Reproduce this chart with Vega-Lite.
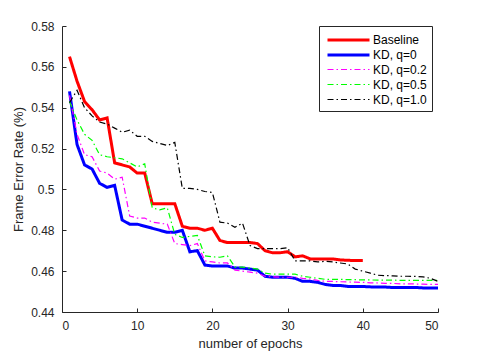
{
  "$schema": "https://vega.github.io/schema/vega-lite/v6.json",
  "width": 376,
  "height": 286,
  "autosize": {"type": "none"},
  "padding": {"left": 62, "top": 26, "right": 47, "bottom": 40},
  "config": {
    "font": "Liberation Sans",
    "view": {"stroke": null},
    "axis": {
      "grid": false,
      "domainColor": "#262626",
      "tickColor": "#262626",
      "labelColor": "#262626",
      "titleColor": "#262626",
      "labelFontSize": 12,
      "titleFontSize": 13,
      "titleFontWeight": "normal",
      "tickSize": -4,
      "domainWidth": 1
    }
  },
  "data": {
    "values": [
      {"x":1,"s":"Baseline","y":0.565},{"x":2,"s":"Baseline","y":0.553},{"x":3,"s":"Baseline","y":0.543},{"x":4,"s":"Baseline","y":0.539},{"x":5,"s":"Baseline","y":0.534},{"x":6,"s":"Baseline","y":0.535},{"x":7,"s":"Baseline","y":0.513},{"x":8,"s":"Baseline","y":0.512},{"x":9,"s":"Baseline","y":0.511},{"x":10,"s":"Baseline","y":0.508},
      {"x":11,"s":"Baseline","y":0.508},{"x":12,"s":"Baseline","y":0.493},{"x":13,"s":"Baseline","y":0.493},{"x":14,"s":"Baseline","y":0.493},{"x":15,"s":"Baseline","y":0.493},{"x":16,"s":"Baseline","y":0.482},{"x":17,"s":"Baseline","y":0.481},{"x":18,"s":"Baseline","y":0.481},{"x":19,"s":"Baseline","y":0.480},{"x":20,"s":"Baseline","y":0.481},
      {"x":21,"s":"Baseline","y":0.475},{"x":22,"s":"Baseline","y":0.474},{"x":23,"s":"Baseline","y":0.474},{"x":24,"s":"Baseline","y":0.474},{"x":25,"s":"Baseline","y":0.474},{"x":26,"s":"Baseline","y":0.4735},{"x":27,"s":"Baseline","y":0.470},{"x":28,"s":"Baseline","y":0.469},{"x":29,"s":"Baseline","y":0.469},{"x":30,"s":"Baseline","y":0.4695},
      {"x":31,"s":"Baseline","y":0.467},{"x":32,"s":"Baseline","y":0.4675},{"x":33,"s":"Baseline","y":0.466},{"x":34,"s":"Baseline","y":0.466},{"x":35,"s":"Baseline","y":0.466},{"x":36,"s":"Baseline","y":0.466},{"x":37,"s":"Baseline","y":0.4655},{"x":38,"s":"Baseline","y":0.4653},{"x":39,"s":"Baseline","y":0.4652},{"x":40,"s":"Baseline","y":0.4652},

      {"x":1,"s":"KD, q=0","y":0.548},{"x":2,"s":"KD, q=0","y":0.522},{"x":3,"s":"KD, q=0","y":0.512},{"x":4,"s":"KD, q=0","y":0.510},{"x":5,"s":"KD, q=0","y":0.503},{"x":6,"s":"KD, q=0","y":0.501},{"x":7,"s":"KD, q=0","y":0.502},{"x":8,"s":"KD, q=0","y":0.485},{"x":9,"s":"KD, q=0","y":0.483},{"x":10,"s":"KD, q=0","y":0.483},
      {"x":11,"s":"KD, q=0","y":0.482},{"x":12,"s":"KD, q=0","y":0.481},{"x":13,"s":"KD, q=0","y":0.480},{"x":14,"s":"KD, q=0","y":0.479},{"x":15,"s":"KD, q=0","y":0.479},{"x":16,"s":"KD, q=0","y":0.480},{"x":17,"s":"KD, q=0","y":0.4695},{"x":18,"s":"KD, q=0","y":0.470},{"x":19,"s":"KD, q=0","y":0.463},{"x":20,"s":"KD, q=0","y":0.4625},
      {"x":21,"s":"KD, q=0","y":0.4625},{"x":22,"s":"KD, q=0","y":0.4625},{"x":23,"s":"KD, q=0","y":0.4615},{"x":24,"s":"KD, q=0","y":0.4615},{"x":25,"s":"KD, q=0","y":0.461},{"x":26,"s":"KD, q=0","y":0.4605},{"x":27,"s":"KD, q=0","y":0.4575},{"x":28,"s":"KD, q=0","y":0.457},{"x":29,"s":"KD, q=0","y":0.457},{"x":30,"s":"KD, q=0","y":0.457},
      {"x":31,"s":"KD, q=0","y":0.4565},{"x":32,"s":"KD, q=0","y":0.455},{"x":33,"s":"KD, q=0","y":0.455},{"x":34,"s":"KD, q=0","y":0.4545},{"x":35,"s":"KD, q=0","y":0.4535},{"x":36,"s":"KD, q=0","y":0.453},{"x":37,"s":"KD, q=0","y":0.453},{"x":38,"s":"KD, q=0","y":0.4525},{"x":39,"s":"KD, q=0","y":0.4525},{"x":40,"s":"KD, q=0","y":0.4525},
      {"x":41,"s":"KD, q=0","y":0.4523},{"x":42,"s":"KD, q=0","y":0.4522},{"x":43,"s":"KD, q=0","y":0.4522},{"x":44,"s":"KD, q=0","y":0.452},{"x":45,"s":"KD, q=0","y":0.452},{"x":46,"s":"KD, q=0","y":0.452},{"x":47,"s":"KD, q=0","y":0.452},{"x":48,"s":"KD, q=0","y":0.4518},{"x":49,"s":"KD, q=0","y":0.4518},{"x":50,"s":"KD, q=0","y":0.4518},

      {"x":1,"s":"KD, q=0.2","y":0.546},{"x":2,"s":"KD, q=0.2","y":0.527},{"x":3,"s":"KD, q=0.2","y":0.517},{"x":4,"s":"KD, q=0.2","y":0.516},{"x":5,"s":"KD, q=0.2","y":0.509},{"x":6,"s":"KD, q=0.2","y":0.508},{"x":7,"s":"KD, q=0.2","y":0.505},{"x":8,"s":"KD, q=0.2","y":0.506},{"x":9,"s":"KD, q=0.2","y":0.487},{"x":10,"s":"KD, q=0.2","y":0.486},
      {"x":11,"s":"KD, q=0.2","y":0.486},{"x":12,"s":"KD, q=0.2","y":0.484},{"x":13,"s":"KD, q=0.2","y":0.4835},{"x":14,"s":"KD, q=0.2","y":0.483},{"x":15,"s":"KD, q=0.2","y":0.4735},{"x":16,"s":"KD, q=0.2","y":0.473},{"x":17,"s":"KD, q=0.2","y":0.4725},{"x":18,"s":"KD, q=0.2","y":0.4735},{"x":19,"s":"KD, q=0.2","y":0.465},{"x":20,"s":"KD, q=0.2","y":0.4645},
      {"x":21,"s":"KD, q=0.2","y":0.464},{"x":22,"s":"KD, q=0.2","y":0.464},{"x":23,"s":"KD, q=0.2","y":0.4605},{"x":24,"s":"KD, q=0.2","y":0.460},{"x":25,"s":"KD, q=0.2","y":0.4595},{"x":26,"s":"KD, q=0.2","y":0.459},{"x":27,"s":"KD, q=0.2","y":0.4575},{"x":28,"s":"KD, q=0.2","y":0.4572},{"x":29,"s":"KD, q=0.2","y":0.457},{"x":30,"s":"KD, q=0.2","y":0.457},
      {"x":31,"s":"KD, q=0.2","y":0.457},{"x":32,"s":"KD, q=0.2","y":0.4565},{"x":33,"s":"KD, q=0.2","y":0.4562},{"x":34,"s":"KD, q=0.2","y":0.4555},{"x":35,"s":"KD, q=0.2","y":0.455},{"x":36,"s":"KD, q=0.2","y":0.455},{"x":37,"s":"KD, q=0.2","y":0.4548},{"x":38,"s":"KD, q=0.2","y":0.4547},{"x":39,"s":"KD, q=0.2","y":0.4546},{"x":40,"s":"KD, q=0.2","y":0.4545},
      {"x":41,"s":"KD, q=0.2","y":0.4543},{"x":42,"s":"KD, q=0.2","y":0.4542},{"x":43,"s":"KD, q=0.2","y":0.454},{"x":44,"s":"KD, q=0.2","y":0.454},{"x":45,"s":"KD, q=0.2","y":0.4538},{"x":46,"s":"KD, q=0.2","y":0.4538},{"x":47,"s":"KD, q=0.2","y":0.4537},{"x":48,"s":"KD, q=0.2","y":0.4536},{"x":49,"s":"KD, q=0.2","y":0.4535},{"x":50,"s":"KD, q=0.2","y":0.4535},

      {"x":1,"s":"KD, q=0.5","y":0.543},{"x":2,"s":"KD, q=0.5","y":0.534},{"x":3,"s":"KD, q=0.5","y":0.527},{"x":4,"s":"KD, q=0.5","y":0.524},{"x":5,"s":"KD, q=0.5","y":0.517},{"x":6,"s":"KD, q=0.5","y":0.516},{"x":7,"s":"KD, q=0.5","y":0.5155},{"x":8,"s":"KD, q=0.5","y":0.515},{"x":9,"s":"KD, q=0.5","y":0.513},{"x":10,"s":"KD, q=0.5","y":0.511},
      {"x":11,"s":"KD, q=0.5","y":0.5125},{"x":12,"s":"KD, q=0.5","y":0.491},{"x":13,"s":"KD, q=0.5","y":0.490},{"x":14,"s":"KD, q=0.5","y":0.491},{"x":15,"s":"KD, q=0.5","y":0.478},{"x":16,"s":"KD, q=0.5","y":0.4765},{"x":17,"s":"KD, q=0.5","y":0.477},{"x":18,"s":"KD, q=0.5","y":0.4775},{"x":19,"s":"KD, q=0.5","y":0.4675},{"x":20,"s":"KD, q=0.5","y":0.467},
      {"x":21,"s":"KD, q=0.5","y":0.4668},{"x":22,"s":"KD, q=0.5","y":0.4675},{"x":23,"s":"KD, q=0.5","y":0.462},{"x":24,"s":"KD, q=0.5","y":0.462},{"x":25,"s":"KD, q=0.5","y":0.4615},{"x":26,"s":"KD, q=0.5","y":0.461},{"x":27,"s":"KD, q=0.5","y":0.459},{"x":28,"s":"KD, q=0.5","y":0.4585},{"x":29,"s":"KD, q=0.5","y":0.4585},{"x":30,"s":"KD, q=0.5","y":0.4585},
      {"x":31,"s":"KD, q=0.5","y":0.4585},{"x":32,"s":"KD, q=0.5","y":0.4575},{"x":33,"s":"KD, q=0.5","y":0.457},{"x":34,"s":"KD, q=0.5","y":0.4565},{"x":35,"s":"KD, q=0.5","y":0.456},{"x":36,"s":"KD, q=0.5","y":0.456},{"x":37,"s":"KD, q=0.5","y":0.456},{"x":38,"s":"KD, q=0.5","y":0.4558},{"x":39,"s":"KD, q=0.5","y":0.4558},{"x":40,"s":"KD, q=0.5","y":0.4557},
      {"x":41,"s":"KD, q=0.5","y":0.4557},{"x":42,"s":"KD, q=0.5","y":0.4556},{"x":43,"s":"KD, q=0.5","y":0.4556},{"x":44,"s":"KD, q=0.5","y":0.4556},{"x":45,"s":"KD, q=0.5","y":0.4555},{"x":46,"s":"KD, q=0.5","y":0.4555},{"x":47,"s":"KD, q=0.5","y":0.4555},{"x":48,"s":"KD, q=0.5","y":0.4555},{"x":49,"s":"KD, q=0.5","y":0.4555},{"x":50,"s":"KD, q=0.5","y":0.4555},

      {"x":1,"s":"KD, q=1.0","y":0.5425},{"x":2,"s":"KD, q=1.0","y":0.5485},{"x":3,"s":"KD, q=1.0","y":0.540},{"x":4,"s":"KD, q=1.0","y":0.536},{"x":5,"s":"KD, q=1.0","y":0.533},{"x":6,"s":"KD, q=1.0","y":0.532},{"x":7,"s":"KD, q=1.0","y":0.530},{"x":8,"s":"KD, q=1.0","y":0.528},{"x":9,"s":"KD, q=1.0","y":0.529},{"x":10,"s":"KD, q=1.0","y":0.526},
      {"x":11,"s":"KD, q=1.0","y":0.526},{"x":12,"s":"KD, q=1.0","y":0.5235},{"x":13,"s":"KD, q=1.0","y":0.5225},{"x":14,"s":"KD, q=1.0","y":0.5215},{"x":15,"s":"KD, q=1.0","y":0.523},{"x":16,"s":"KD, q=1.0","y":0.5005},{"x":17,"s":"KD, q=1.0","y":0.5005},{"x":18,"s":"KD, q=1.0","y":0.500},{"x":19,"s":"KD, q=1.0","y":0.499},{"x":20,"s":"KD, q=1.0","y":0.4985},
      {"x":21,"s":"KD, q=1.0","y":0.484},{"x":22,"s":"KD, q=1.0","y":0.4835},{"x":23,"s":"KD, q=1.0","y":0.4815},{"x":24,"s":"KD, q=1.0","y":0.4835},{"x":25,"s":"KD, q=1.0","y":0.4725},{"x":26,"s":"KD, q=1.0","y":0.471},{"x":27,"s":"KD, q=1.0","y":0.471},{"x":28,"s":"KD, q=1.0","y":0.471},{"x":29,"s":"KD, q=1.0","y":0.471},{"x":30,"s":"KD, q=1.0","y":0.4715},
      {"x":31,"s":"KD, q=1.0","y":0.465},{"x":32,"s":"KD, q=1.0","y":0.465},{"x":33,"s":"KD, q=1.0","y":0.465},{"x":34,"s":"KD, q=1.0","y":0.4645},{"x":35,"s":"KD, q=1.0","y":0.4648},{"x":36,"s":"KD, q=1.0","y":0.4645},{"x":37,"s":"KD, q=1.0","y":0.464},{"x":38,"s":"KD, q=1.0","y":0.4635},{"x":39,"s":"KD, q=1.0","y":0.461},{"x":40,"s":"KD, q=1.0","y":0.460},
      {"x":41,"s":"KD, q=1.0","y":0.459},{"x":42,"s":"KD, q=1.0","y":0.458},{"x":43,"s":"KD, q=1.0","y":0.4578},{"x":44,"s":"KD, q=1.0","y":0.4577},{"x":45,"s":"KD, q=1.0","y":0.4575},{"x":46,"s":"KD, q=1.0","y":0.4575},{"x":47,"s":"KD, q=1.0","y":0.4574},{"x":48,"s":"KD, q=1.0","y":0.4572},{"x":49,"s":"KD, q=1.0","y":0.4565},{"x":50,"s":"KD, q=1.0","y":0.455}
    ]
  },
  "mark": {"type": "line"},
  "encoding": {
    "x": {
      "field": "x", "type": "quantitative",
      "scale": {"domain": [0, 50], "nice": false},
      "axis": {"values": [0, 10, 20, 30, 40, 50], "title": "number of epochs", "labelPadding": 12, "titlePadding": 6}
    },
    "y": {
      "field": "y", "type": "quantitative",
      "scale": {"domain": [0.44, 0.58], "nice": false, "zero": false},
      "axis": {"values": [0.44, 0.46, 0.48, 0.5, 0.52, 0.54, 0.56, 0.58], "format": "~g", "title": "Frame Error Rate (%)", "labelPadding": 12, "titlePadding": 5}
    },
    "color": {
      "field": "s", "type": "nominal",
      "scale": {"domain": ["Baseline", "KD, q=0", "KD, q=0.2", "KD, q=0.5", "KD, q=1.0"], "range": ["#ff0000", "#0000ff", "#ff00ff", "#00ff00", "#000000"]},
      "legend": {
        "title": null, "orient": "none", "legendX": 257, "legendY": 0,
        "symbolType": "M-1,0H4.6", "symbolSize": 225, "symbolFillColor": "transparent", "symbolOffset": 2,
        "labelFontSize": 12, "labelColor": "#000000", "labelOffset": 29,
        "strokeColor": "#262626", "fillColor": "#ffffff", "padding": 5,
        "rowPadding": 0
      }
    },
    "strokeDash": {
      "field": "s", "type": "nominal",
      "scale": {"domain": ["Baseline", "KD, q=0", "KD, q=0.2", "KD, q=0.5", "KD, q=1.0"], "range": [[1, 0], [1, 0], [6, 3, 1.5, 3], [6, 3, 1.5, 3], [6, 3, 1.5, 3]]}
    },
    "strokeWidth": {
      "field": "s", "type": "nominal",
      "scale": {"type": "ordinal", "domain": ["Baseline", "KD, q=0", "KD, q=0.2", "KD, q=0.5", "KD, q=1.0"], "range": [3, 3, 1.2, 1.2, 1.2]}
    }
  }
}
